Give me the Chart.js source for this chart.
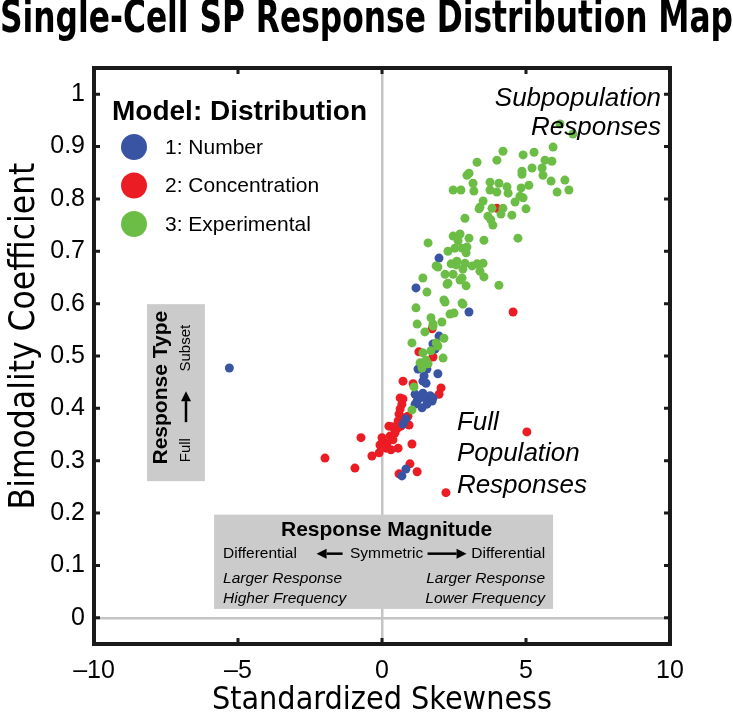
<!DOCTYPE html>
<html>
<head>
<meta charset="utf-8">
<script src="https://cdn.jsdelivr.net/npm/chart.js@4.4.1/dist/chart.umd.min.js"></script>
<style>
  html, body { margin: 0; padding: 0; background: #fff; }
</style>
</head>
<body>
<canvas id="mapChart" width="733" height="713"></canvas>
<script>
// ---- data (x = standardized skewness, y = bimodality coefficient)
const seriesLabels = ['1: Number', '2: Concentration', '3: Experimental'];
const seriesColors = ['#3a54a4', '#ec1c24', '#6cbd45'];

const numberPts = [
  [1.98, 0.687], [1.18, 0.630], [3.02, 0.584], [1.98, 0.538], [1.77, 0.523], [1.84, 0.513],
  [1.25, 0.475], [1.56, 0.475], [1.46, 0.462], [1.94, 0.466], [1.42, 0.452], [1.53, 0.448],
  [1.15, 0.427], [1.32, 0.420], [1.22, 0.414], [1.49, 0.420], [1.67, 0.424], [1.74, 0.414],
  [1.56, 0.408], [1.39, 0.401], [1.15, 0.408], [1.60, 0.414], [1.42, 0.429], [1.77, 0.420],
  [0.83, 0.380], [0.73, 0.370], [0.83, 0.284], [0.69, 0.271], [-5.30, 0.477]
];

const concentrationPts = [
  [4.55, 0.584], [3.99, 0.782], [1.74, 0.552], [1.28, 0.508], [1.77, 0.498], [1.53, 0.477],
  [0.73, 0.452], [1.08, 0.447], [2.05, 0.439], [1.98, 0.427], [0.63, 0.420], [0.73, 0.418],
  [0.69, 0.408], [0.63, 0.399], [0.59, 0.389], [0.73, 0.382], [0.56, 0.376], [0.66, 0.366],
  [0.52, 0.361], [0.35, 0.365], [0.45, 0.353], [0.28, 0.347], [0.24, 0.366], [0.90, 0.385],
  [0.94, 0.368], [0.38, 0.340], [0.17, 0.332], [0.03, 0.338], [-0.07, 0.330], [0.14, 0.324],
  [0.31, 0.321], [0.56, 0.324], [0.00, 0.344], [-0.10, 0.315], [-0.35, 0.309], [1.04, 0.332],
  [-0.73, 0.344], [-1.98, 0.305], [-0.94, 0.286], [0.97, 0.294], [1.22, 0.279], [0.59, 0.275],
  [5.03, 0.355], [2.22, 0.239]
];

const experimentalPts = [
  [6.18, 0.943], [6.63, 0.924], [5.94, 0.899], [4.20, 0.891], [5.28, 0.889], [4.90, 0.884],
  [3.99, 0.874], [5.66, 0.874], [5.90, 0.872], [3.30, 0.870], [5.21, 0.859], [4.86, 0.853],
  [4.86, 0.847], [5.56, 0.859], [3.02, 0.849], [2.95, 0.845], [5.59, 0.845], [5.87, 0.834],
  [6.35, 0.836], [3.16, 0.830], [3.75, 0.832], [4.06, 0.830], [5.10, 0.826], [2.47, 0.817],
  [2.74, 0.817], [3.19, 0.815], [3.75, 0.817], [3.99, 0.813], [4.34, 0.823], [4.38, 0.811],
  [4.83, 0.821], [4.79, 0.805], [6.49, 0.817], [6.08, 0.813], [3.51, 0.796], [3.40, 0.784],
  [3.37, 0.781], [4.62, 0.794], [4.90, 0.802], [3.82, 0.782], [4.20, 0.782], [4.13, 0.771],
  [5.00, 0.781], [4.51, 0.769], [3.68, 0.767], [3.78, 0.760], [3.85, 0.750], [2.88, 0.763],
  [4.72, 0.725], [1.60, 0.716], [3.54, 0.721], [2.71, 0.733], [2.47, 0.729], [2.64, 0.720],
  [3.02, 0.725], [2.78, 0.706], [2.95, 0.708], [2.53, 0.706], [2.29, 0.700], [2.92, 0.697],
  [2.60, 0.681], [2.40, 0.676], [2.57, 0.674], [2.88, 0.677], [3.13, 0.672], [3.30, 0.676],
  [3.51, 0.677], [1.88, 0.672], [1.94, 0.670], [2.19, 0.656], [2.47, 0.656], [2.78, 0.649],
  [2.81, 0.666], [3.40, 0.662], [3.54, 0.651], [1.42, 0.649], [2.29, 0.639], [2.71, 0.645],
  [2.92, 0.634], [4.06, 0.635], [1.56, 0.622], [2.26, 0.637], [2.15, 0.607], [2.19, 0.603],
  [2.78, 0.601], [2.81, 0.599], [1.18, 0.592], [2.36, 0.580], [2.50, 0.582], [1.70, 0.573],
  [2.08, 0.565], [1.77, 0.561], [1.22, 0.561], [1.49, 0.546], [2.15, 0.534], [1.04, 0.525],
  [1.88, 0.525], [1.77, 0.557], [1.94, 0.519], [1.42, 0.506], [1.70, 0.510], [2.12, 0.496],
  [1.32, 0.487], [1.53, 0.492], [1.60, 0.485], [1.39, 0.477], [1.11, 0.441], [1.04, 0.397]
];

const xTickValues = [-10, -5, 0, 5, 10];
const yTickValues = [0, 0.1, 0.2, 0.3, 0.4, 0.5, 0.6, 0.7, 0.8, 0.9, 1];

const SANS = '"Liberation Sans", Arial, Helvetica, sans-serif';
const NARROW = '"DejaVu Sans Condensed", "Liberation Sans Narrow", sans-serif';

function arrow(ctx, x1, y1, x2, y2) {
  const ang = Math.atan2(y2 - y1, x2 - x1);
  const head = 10, half = 5;
  const bx = x2 - head * Math.cos(ang), by = y2 - head * Math.sin(ang);
  ctx.beginPath();
  ctx.moveTo(x1, y1);
  ctx.lineTo(bx, by);
  ctx.lineWidth = 2.5;
  ctx.stroke();
  ctx.beginPath();
  ctx.moveTo(x2, y2);
  ctx.lineTo(bx - half * Math.sin(ang), by + half * Math.cos(ang));
  ctx.lineTo(bx + half * Math.sin(ang), by - half * Math.cos(ang));
  ctx.closePath();
  ctx.fill();
}

// gray explanation boxes, frame, inner ticks, legend and the two notes
const decor = {
  id: 'decor',
  beforeDatasetsDraw(chart) {
    const { ctx } = chart;
    const X = v => chart.scales.x.getPixelForValue(v);
    const Y = v => chart.scales.y.getPixelForValue(v);
    ctx.save();
    ctx.fillStyle = '#cbcbcb';

    // Response Type box
    const t0 = X(-8.16), t1 = X(-6.15), tTop = Y(0.599), tBot = Y(0.261);
    ctx.fillRect(t0, tTop, t1 - t0, tBot - tTop);
    // Response Magnitude box
    const m0 = X(-5.83), m1 = X(5.94), mTop = Y(0.197), mBot = Y(0.017);
    ctx.fillRect(m0, mTop, m1 - m0, mBot - mTop);

    ctx.fillStyle = '#000';
    ctx.strokeStyle = '#000';
    ctx.textBaseline = 'middle';

    // vertical box text
    ctx.save();
    ctx.translate(t0 + 14, (tTop + tBot) / 2 - 5);
    ctx.rotate(-Math.PI / 2);
    ctx.textAlign = 'center';
    ctx.font = 'bold 21px ' + SANS;
    ctx.fillText('Response Type', 0, 0);
    ctx.restore();

    const cx = t0 + 39;
    ctx.save();
    ctx.translate(cx, tTop + 146);
    ctx.rotate(-Math.PI / 2);
    ctx.textAlign = 'center';
    ctx.font = '15px ' + SANS;
    ctx.fillText('Full', 0, 0);
    ctx.restore();
    ctx.save();
    ctx.translate(cx, tTop + 44);
    ctx.rotate(-Math.PI / 2);
    ctx.textAlign = 'center';
    ctx.font = '15px ' + SANS;
    ctx.fillText('Subset', 0, 0);
    ctx.restore();
    arrow(ctx, cx, tTop + 118, cx, tTop + 87);

    // horizontal box text
    const mc = (m0 + m1) / 2 + 3;
    ctx.textAlign = 'center';
    ctx.font = 'bold 21px ' + SANS;
    ctx.fillText('Response Magnitude', mc, mTop + 16);
    ctx.font = '15.5px ' + SANS;
    ctx.fillText('Symmetric', mc, mTop + 39);
    ctx.textAlign = 'left';
    ctx.fillText('Differential', m0 + 9, mTop + 39);
    ctx.textAlign = 'right';
    ctx.fillText('Differential', m1 - 8, mTop + 39);
    arrow(ctx, mc - 44, mTop + 39, mc - 70, mTop + 39);
    arrow(ctx, mc + 41, mTop + 39, mc + 80, mTop + 39);
    ctx.font = 'italic 15.5px ' + SANS;
    ctx.textAlign = 'left';
    ctx.fillText('Larger Response', m0 + 9, mTop + 64);
    ctx.fillText('Higher Frequency', m0 + 9, mTop + 84);
    ctx.textAlign = 'right';
    ctx.fillText('Larger Response', m1 - 8, mTop + 64);
    ctx.fillText('Lower Frequency', m1 - 8, mTop + 84);
    ctx.restore();
  },
  afterDatasetsDraw(chart) {
    const { ctx, chartArea: a } = chart;
    const X = v => chart.scales.x.getPixelForValue(v);
    const Y = v => chart.scales.y.getPixelForValue(v);
    ctx.save();

    // notes
    ctx.fillStyle = '#000';
    ctx.textBaseline = 'middle';
    ctx.font = 'italic 26px ' + SANS;
    ctx.textAlign = 'right';
    ctx.fillText('Subpopulation', X(9.69), Y(0.992));
    ctx.fillText('Responses', X(9.69), Y(0.935));
    ctx.textAlign = 'left';
    ctx.fillText('Full', X(2.6), Y(0.372));
    ctx.fillText('Population', X(2.6), Y(0.313));
    ctx.fillText('Responses', X(2.6), Y(0.252));

    // legend
    const lx = a.left + 18;
    ctx.font = 'bold 28px ' + SANS;
    ctx.fillText('Model: Distribution', lx, a.top + 44);
    ctx.font = '21px ' + SANS;
    chart.data.datasets.forEach((ds, i) => {
      const ly = a.top + 79 + i * 38.5;
      ctx.fillStyle = ds.backgroundColor;
      ctx.beginPath();
      ctx.arc(lx + 22, ly, 13, 0, Math.PI * 2);
      ctx.fill();
      ctx.fillStyle = '#000';
      ctx.fillText(ds.label, lx + 53, ly + 1);
    });

    // frame with inward ticks
    ctx.strokeStyle = '#1a1a1a';
    ctx.lineWidth = 4;
    ctx.strokeRect(a.left, a.top, a.right - a.left, a.bottom - a.top);
    ctx.lineWidth = 3;
    ctx.beginPath();
    yTickValues.forEach(v => {
      const y = Y(v);
      ctx.moveTo(a.left, y); ctx.lineTo(a.left + 6, y);
      ctx.moveTo(a.right, y); ctx.lineTo(a.right - 6, y);
    });
    xTickValues.slice(1, -1).forEach(v => {
      const x = X(v);
      ctx.moveTo(x, a.top); ctx.lineTo(x, a.top + 6);
      ctx.moveTo(x, a.bottom); ctx.lineTo(x, a.bottom - 6);
    });
    ctx.stroke();
    ctx.restore();
  }
};

const toXY = pts => pts.map(p => ({ x: p[0], y: p[1] }));
const zeroLine = c => (c.tick && c.tick.value === 0 ? '#c4c4c4' : 'rgba(0,0,0,0)');

new Chart(document.getElementById('mapChart').getContext('2d'), {
  type: 'scatter',
  data: {
    datasets: [
      { label: seriesLabels[0], data: toXY(numberPts), backgroundColor: seriesColors[0], order: 1 },
      { label: seriesLabels[1], data: toXY(concentrationPts), backgroundColor: seriesColors[1], order: 2 },
      { label: seriesLabels[2], data: toXY(experimentalPts), backgroundColor: seriesColors[2], order: 0 }
    ]
  },
  options: {
    responsive: false,
    animation: false,
    elements: { point: { radius: 4.5, borderWidth: 0, hoverRadius: 4.5 } },
    layout: { padding: 0 },
    plugins: {
      legend: { display: false },
      tooltip: { enabled: false },
      title: {
        display: true,
        text: 'Single-Cell SP Response Distribution Map',
        color: '#000',
        font: { family: NARROW, size: 45, weight: 'bold', lineHeight: 40 / 45 },
        padding: { top: 0, bottom: 28 }
      }
    },
    scales: {
      x: {
        type: 'linear',
        min: -10, max: 10,
        afterFit: s => { s.height = 69; },
        afterBuildTicks: s => { s.ticks = xTickValues.map(v => ({ value: v })); },
        ticks: {
          color: '#000', padding: 12, maxRotation: 0,
          font: { family: SANS, size: 25 },
          callback: v => (v < 0 ? '\u2013' + Math.abs(v) : String(v))
        },
        grid: { drawTicks: false, color: zeroLine, lineWidth: 2.5 },
        border: { display: false },
        title: {
          display: true, text: 'Standardized Skewness', color: '#000',
          font: { family: NARROW, size: 32, lineHeight: 0.75 },
          padding: { top: 0, bottom: 0 }
        }
      },
      y: {
        type: 'linear',
        min: -0.05, max: 1.05,
        afterFit: s => { s.width = 94; },
        afterBuildTicks: s => { s.ticks = yTickValues.map(v => ({ value: v })); },
        ticks: {
          color: '#000', padding: 9,
          font: { family: SANS, size: 25 },
          callback: v => (v === 0 ? '0' : v === 1 ? '1' : v.toFixed(1))
        },
        grid: { drawTicks: false, color: zeroLine, lineWidth: 2.5 },
        border: { display: false },
        title: {
          display: true,
          // leading no-break spaces nudge the rotated label upward, as in the original
          text: '\u00a0\u00a0\u00a0\u00a0Bimodality Coefficient',
          color: '#000',
          font: { family: NARROW, size: 35, lineHeight: 1.2 },
          padding: { top: 4, bottom: 0 }
        }
      },
      // empty right-hand axis that only reserves the margin right of the frame
      yRight: {
        type: 'linear',
        position: 'right',
        min: -0.05, max: 1.05,
        afterFit: s => { s.width = 63; },
        ticks: { display: false },
        grid: { display: false },
        border: { display: false }
      }
    }
  },
  plugins: [decor]
});
</script>
</body>
</html>
